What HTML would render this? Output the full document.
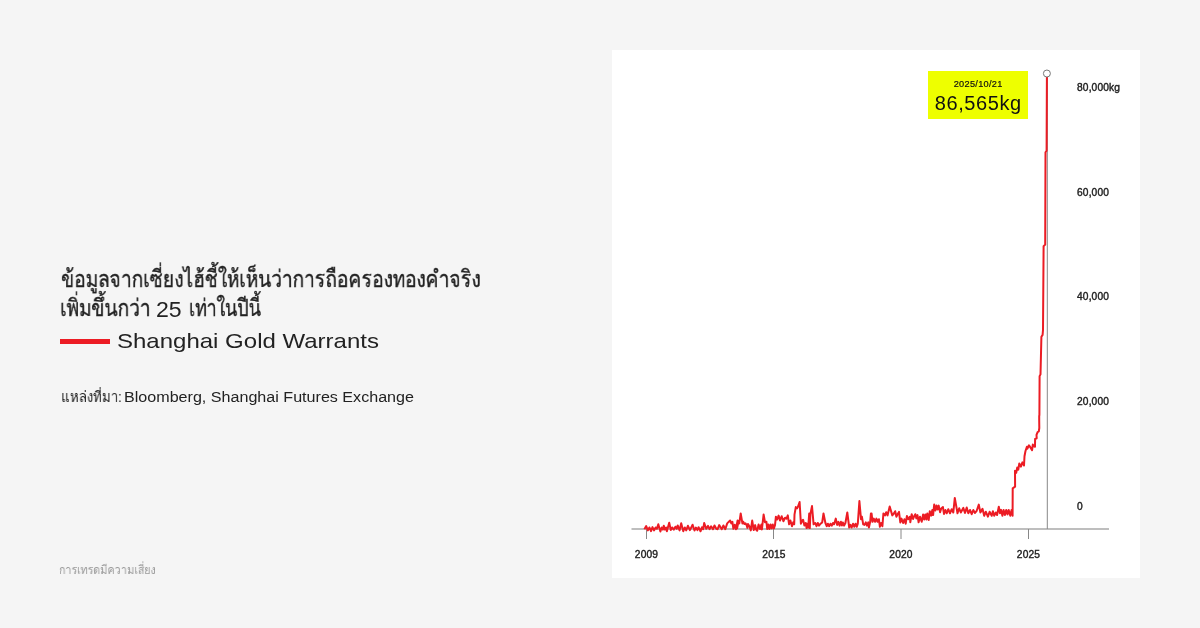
<!DOCTYPE html>
<html><head><meta charset="utf-8">
<style>
html,body{margin:0;padding:0;}
body{width:1200px;height:628px;background:#f5f5f5;position:relative;overflow:hidden;font-family:"Liberation Sans",sans-serif;color:#222;}
.card{position:absolute;left:612px;top:50px;width:528px;height:528px;background:#fff;}
.t{position:absolute;white-space:nowrap;transform-origin:0 0;will-change:transform;}
.th1{left:61px;top:264px;font-size:23.5px;line-height:30px;color:#222;transform:scaleX(0.821);-webkit-text-stroke:0.35px #222;}
.th2{left:60px;top:293px;font-size:23.5px;line-height:30px;color:#222;transform:scaleX(0.822);-webkit-text-stroke:0.35px #222;}
.th2b{left:156px;top:294.5px;font-size:22px;line-height:30px;color:#222;transform:scaleX(1.05);}
.bar{position:absolute;left:60px;top:339px;width:49.5px;height:5px;background:#ec1c24;}
.lt{left:117px;top:329px;font-size:21px;line-height:24px;color:#222;transform:scaleX(1.143);}
.srcth{left:61px;top:387px;font-size:15px;line-height:20px;color:#222;transform:scaleX(0.89);}
.srcen{left:124px;top:387px;font-size:14px;line-height:20px;color:#222;transform:scaleX(1.15);}
.foot{left:59px;top:562px;font-size:12px;line-height:16px;color:#9a9a9a;transform:scaleX(0.897);}
svg{position:absolute;left:0;top:0;will-change:transform;}
.ax{font-family:"Liberation Sans",sans-serif;font-size:10.2px;font-weight:normal;fill:#222;stroke:#222;stroke-width:0.4px;letter-spacing:0.15px;}
.tip{will-change:transform;position:absolute;left:928px;top:71px;width:100px;height:47.5px;background:#eeff00;text-align:center;color:#111;}
.tip .d{position:absolute;left:0;right:0;top:7px;font-size:9.2px;line-height:12px;letter-spacing:0.3px;text-indent:0.3px;-webkit-text-stroke:0.2px #111;}
.tip .v{position:absolute;left:0;right:0;top:21px;font-size:20px;line-height:22px;letter-spacing:0.6px;text-indent:0.6px;}
</style></head><body>
<div class="card"></div>
<div class="t th1" id="th1">ข้อมูลจากเซี่ยงไฮ้ชี้ให้เห็นว่าการถือครองทองคำจริง</div>
<div class="t th2" id="th2a">เพิ่มขึ้นกว่า</div>
<div class="t th2b" id="th2b">25</div>
<div class="t th2" id="th2c" style="left:189px;transform:scaleX(0.765)">เท่าในปีนี้</div>
<div class="bar"></div>
<div class="t lt" id="lt">Shanghai Gold Warrants</div>
<div class="t srcth" id="srcth">แหล่งที่มา:</div>
<div class="t srcen" id="srcen">Bloomberg, Shanghai Futures Exchange</div>
<div class="t foot" id="foot">การเทรดมีความเสี่ยง</div>
<svg width="1200" height="628" viewBox="0 0 1200 628">
<line x1="631.5" y1="529" x2="1109" y2="529" stroke="#a8a8a8" stroke-width="1.5"/>
<g stroke="#888" stroke-width="1">
<line x1="646.5" y1="529" x2="646.5" y2="539"/>
<line x1="773.5" y1="529" x2="773.5" y2="539"/>
<line x1="901" y1="529" x2="901" y2="539"/>
<line x1="1028.5" y1="529" x2="1028.5" y2="539"/>
<line x1="1047.3" y1="77" x2="1047.3" y2="529"/>
</g>
<path d="M644.4,529.2 L646.2,526.0 L647.9,530.4 L649.4,527.5 L651.0,531.2 L652.5,527.1 L654.0,530.4 L655.6,527.5 L656.9,528.8 L658.3,524.2 L660.4,531.5 L661.7,527.5 L662.9,529.6 L663.8,525.8 L665.0,529.6 L666.2,527.5 L666.9,531.2 L668.1,526.7 L669.2,522.7 L670.8,530.0 L672.1,527.5 L673.8,529.6 L675.4,526.7 L676.7,528.8 L677.7,525.4 L679.6,530.4 L681.2,523.3 L683.3,531.2 L684.8,527.5 L686.2,530.4 L687.9,525.8 L688.0,525.9 L689.9,530.1 L692.6,524.7 L694.5,530.5 L695.9,527.6 L697.4,530.1 L698.6,527.2 L700.5,531.3 L702.0,527.2 L703.2,529.2 L704.2,523.0 L706.3,528.8 L708.0,525.9 L709.5,529.2 L711.1,526.3 L713.0,529.2 L714.5,525.5 L716.3,528.8 L717.6,529.2 L719.2,525.1 L721.8,529.2 L723.4,525.5 L725.3,529.2 L727.2,523.4 L730.1,520.5 L731.3,523.4 L732.4,521.8 L733.4,528.8 L734.7,524.7 L735.9,529.2 L737.6,520.5 L737.1,528.4 L738.5,521.2 L739.3,523.4 L740.7,513.4 L742.4,523.4 L743.2,521.7 L744.4,524.0 L745.5,523.4 L746.6,525.1 L747.4,527.9 L748.0,524.0 L749.4,526.2 L750.8,530.4 L752.2,520.6 L753.8,530.1 L755.2,525.1 L756.1,529.5 L757.2,530.7 L758.6,524.5 L760.0,529.0 L761.4,524.5 L761.9,529.5 L763.6,514.5 L765.0,522.3 L766.4,521.7 L767.2,529.0 L768.3,524.5 L769.4,529.0 L770.6,524.5 L771.7,528.4 L772.8,524.5 L773.9,528.4 L775.0,525.1 L775.9,516.7 L777.2,519.5 L778.6,515.6 L780.0,520.6 L781.7,516.2 L783.4,521.2 L785.1,517.8 L784.0,519.2 L785.3,517.9 L786.5,518.6 L787.8,515.4 L789.1,524.3 L790.4,520.5 L792.0,526.2 L793.2,522.4 L794.2,524.3 L794.5,514.7 L795.8,507.1 L797.1,508.4 L798.0,506.5 L799.6,502.0 L800.9,523.7 L802.2,520.5 L803.1,519.8 L804.4,525.6 L805.7,523.0 L806.6,528.1 L807.6,523.7 L808.2,527.5 L809.2,513.5 L809.8,528.1 L810.4,514.1 L812.0,506.1 L813.6,524.3 L815.2,523.0 L816.5,526.2 L817.8,523.0 L819.0,525.6 L820.6,523.7 L822.2,522.4 L823.5,513.5 L825.4,523.0 L826.7,526.2 L827.9,523.7 L829.2,526.2 L830.5,523.7 L831.8,525.6 L833.0,523.0 L834.0,524.3 L834.5,523.0 L835.8,518.6 L837.1,524.9 L838.4,521.8 L839.6,525.6 L840.9,521.8 L841.9,525.6 L842.8,522.4 L844.1,525.6 L845.4,523.0 L847.3,512.5 L849.2,527.5 L850.5,524.9 L851.7,527.5 L853.0,523.7 L854.3,526.8 L855.6,523.7 L856.8,526.8 L857.8,523.7 L859.4,501.1 L861.0,519.2 L861.9,516.7 L863.2,524.3 L864.5,524.9 L865.8,522.4 L867.0,525.6 L868.3,522.4 L868.9,527.5 L870.2,521.8 L870.9,513.5 L871.6,513.5 L872.5,521.8 L873.8,518.6 L875.1,521.8 L876.4,518.6 L877.6,521.8 L878.9,519.2 L879.9,526.8 L881.1,523.0 L882.4,526.2 L883.4,513.5 L885.0,515.4 L886.2,512.2 L887.5,515.4 L889.7,506.5 L892.3,515.4 L893.9,513.5 L895.2,511.2 L896.4,516.7 L897.7,514.1 L899.0,511.9 L900.3,522.4 L901.5,518.6 L903.1,523.0 L904.4,519.2 L905.7,523.7 L906.9,516.0 L908.2,519.2 L910.0,516.7 L910.3,522.3 L911.7,514.2 L913.1,519.0 L914.2,516.2 L915.3,514.2 L916.4,518.4 L917.5,515.1 L918.6,522.3 L920.0,516.7 L921.7,521.7 L923.1,514.5 L924.2,519.5 L925.3,514.5 L926.4,519.5 L927.3,513.4 L928.7,520.1 L929.8,511.2 L931.2,515.6 L932.3,510.0 L933.1,515.1 L934.2,504.5 L935.4,510.6 L936.5,505.6 L937.6,509.5 L938.7,505.6 L940.1,512.3 L941.2,508.4 L942.9,507.0 L944.0,513.9 L945.4,510.0 L946.7,513.3 L948.3,509.2 L950.0,513.3 L951.7,509.2 L953.3,512.5 L954.8,497.9 L957.5,513.3 L959.2,508.3 L960.8,512.5 L963.3,507.9 L965.0,512.9 L966.7,507.5 L968.3,513.3 L970.0,510.0 L971.7,514.2 L973.3,510.0 L975.0,512.9 L976.7,510.8 L978.8,504.6 L980.4,512.5 L982.5,508.8 L984.2,515.8 L985.8,511.7 L987.9,516.7 L989.6,511.7 L991.7,515.8 L992.9,511.2 L994.2,515.8 L995.8,512.5 L997.1,515.0 L998.8,506.7 L1000.0,513.3 L1001.1,509.9 L1002.4,515.7 L1003.6,509.9 L1004.9,515.0 L1006.2,509.9 L1007.5,514.4 L1008.7,509.9 L1010.3,515.7 L1011.6,509.9 L1012.6,515.7 L1012.7,488.3 L1015.1,486.7 L1015.0,470.7 L1016.2,472.8 L1017.2,467.6 L1018.3,469.7 L1019.3,463.5 L1020.9,466.6 L1022.4,462.4 L1024.0,465.5 L1024.5,456.2 L1025.1,453.0 L1025.5,451.0 L1026.9,446.7 L1027.3,448.8 L1029.0,445.3 L1030.4,447.4 L1032.1,450.2 L1032.8,444.6 L1034.2,446.5 L1035.0,446.7 L1035.1,439.0 L1036.7,438.3 L1036.5,434.8 L1037.7,432.0 L1038.8,431.3 L1039.3,428.0 L1039.2,420.0 L1039.2,415.6 L1039.4,415.2 L1039.6,376.1 L1040.5,374.4 L1041.4,336.7 L1042.6,334.9 L1043.0,330.0 L1043.6,246.2 L1045.2,244.6 L1045.5,152.3 L1046.6,150.7 L1046.9,77.0" fill="none" stroke="#ec1c24" stroke-width="2" stroke-linejoin="round"/>
<circle cx="1046.9" cy="73.5" r="3.5" fill="#fff" stroke="#777" stroke-width="1"/>
<g class="ax" text-anchor="middle">
<text x="646.5" y="558">2009</text>
<text x="774" y="558">2015</text>
<text x="901" y="558">2020</text>
<text x="1028.5" y="558">2025</text>
</g>
<g class="ax">
<text x="1077" y="90.8">80,000kg</text>
<text x="1077" y="195.5">60,000</text>
<text x="1077" y="300.2">40,000</text>
<text x="1077" y="405">20,000</text>
<text x="1077" y="509.8">0</text>
</g>
</svg>
<div class="tip"><div class="d">2025/10/21</div><div class="v">86,565kg</div></div>
</body></html>
